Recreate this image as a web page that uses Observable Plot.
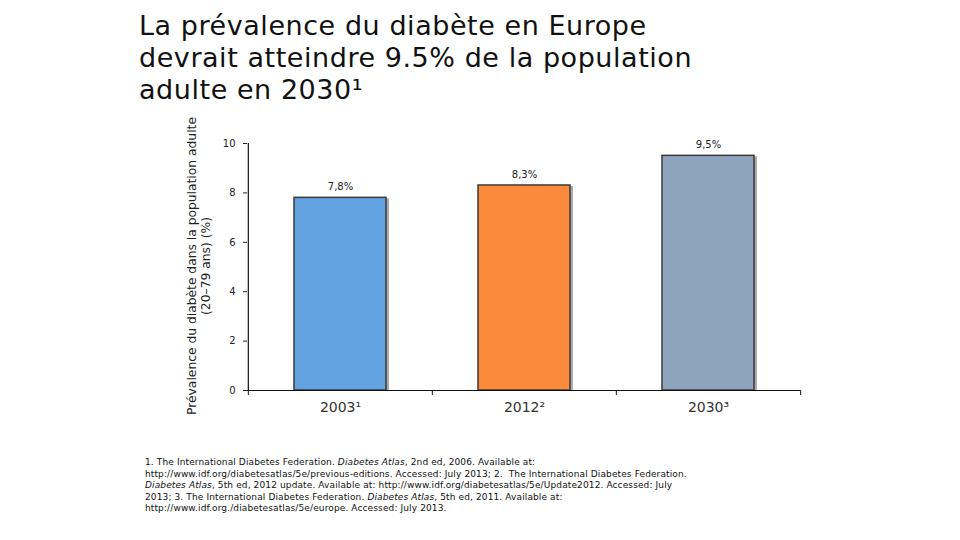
<!DOCTYPE html>
<html>
<head>
<meta charset="utf-8">
<script src="https://cdn.jsdelivr.net/npm/d3@7"></script>
<script src="https://cdn.jsdelivr.net/npm/@observablehq/plot@0.6"></script>
<style>
  html, body { margin: 0; padding: 0; background: #fff; }
  #page { position: relative; width: 960px; height: 540px; overflow: hidden; font-family: "DejaVu Sans", Verdana, sans-serif; }
  #title { position: absolute; left: 139px; top: 10px; font-size: 27px; letter-spacing: 0.55px; line-height: 32px; color: #111; margin: 0; font-weight: normal; }
  #chart { position: absolute; left: 0; top: 110px; }
  #notes { position: absolute; left: 145px; top: 457px; font-size: 9px; letter-spacing: 0.12px; line-height: 11.5px; color: #111; }
</style>
</head>
<body>
<div id="page">
  <h1 id="title">La prévalence du diabète en Europe<br>devrait atteindre 9.5% de la population<br>adulte en 2030¹</h1>
  <div id="chart"></div>
  <div id="notes">1. The International Diabetes Federation. <i>Diabetes Atlas</i>, 2nd ed, 2006. Available at:<br>http://www.idf.org/diabetesatlas/5e/previous-editions. Accessed: July 2013; 2.&nbsp; The International Diabetes Federation.<br><i>Diabetes Atlas</i>, 5th ed, 2012 update. Available at: http://www.idf.org/diabetesatlas/5e/Update2012. Accessed: July<br>2013; 3. The International Diabetes Federation. <i>Diabetes Atlas</i>, 5th ed, 2011. Available at:<br>http://www.idf.org./diabetesatlas/5e/europe. Accessed: July 2013.</div>
</div>
<script>
const categories = ["2003¹", "2012²", "2030³"];
const values = [7.8, 8.3, 9.5];
const valueLabels = ["7,8%", "8,3%", "9,5%"];
const colors = ["#63a2e0", "#fb8a3a", "#8ea3bd"];
const yTicks = [0, 2, 4, 6, 8, 10];
const yLabel = "Prévalence du diabète dans la population adulte\n(20–79 ans) (%)";

const data = categories.map((c, i) => ({category: c, value: values[i], label: valueLabels[i], color: colors[i]}));

const W = 960, H = 330, mL = 247, mR = 160, mT = 33, mB = 50;
const padIn = 0.5, padOut = 0.25;
const step = (W - mL - mR) / (categories.length - padIn + 2 * padOut);

const chart = Plot.plot({
  width: W,
  height: H,
  marginLeft: mL,
  marginRight: mR,
  marginTop: mT,
  marginBottom: mB,
  style: {fontFamily: "DejaVu Sans, Verdana, sans-serif", color: "#222", background: "transparent"},
  x: {domain: categories, paddingInner: padIn, paddingOuter: padOut, label: null},
  y: {domain: [0, 10], label: null},
  marks: [
    Plot.axisY({ticks: yTicks, tickSize: 4, tickPadding: 8, fontSize: 10, label: null}),
    Plot.axisX({tickSize: 0, tickPadding: 12, fontSize: 14, label: null, fill: "#333"}),
    // shadow
    Plot.barY(data, {x: "category", y: "value", fill: "#444", fillOpacity: 0.45, dx: 3, dy: 1}),
    Plot.barY(data, {x: "category", y: "value", fill: "color", stroke: "#3a3a3a", strokeWidth: 1.5}),
    Plot.text(data, {x: "category", y: "value", text: "label", dy: -11, fontSize: 10, fill: "#222"}),
    // axis lines
    Plot.ruleY([0], {stroke: "#111", strokeWidth: 1.2}),
    Plot.ruleX([categories[0]], {y1: 0, y2: 10, dx: -step / 2, stroke: "#111", strokeWidth: 1.2}),
    // category boundary ticks
    Plot.ruleX(categories, {y1: 0, y2: 0.2, dx: -step / 2, dy: 5, stroke: "#111"}),
    Plot.ruleX([categories[categories.length - 1]], {y1: 0, y2: 0.2, dx: step / 2, dy: 5, stroke: "#111"}),
    // y axis title
    Plot.text([yLabel], {frameAnchor: "left", rotate: -90, dx: -49, dy: -1, textAnchor: "middle", fontSize: 12.3, lineHeight: 1.1, fill: "#222"})
  ]
});
document.getElementById("chart").appendChild(chart);
</script>
</body>
</html>
